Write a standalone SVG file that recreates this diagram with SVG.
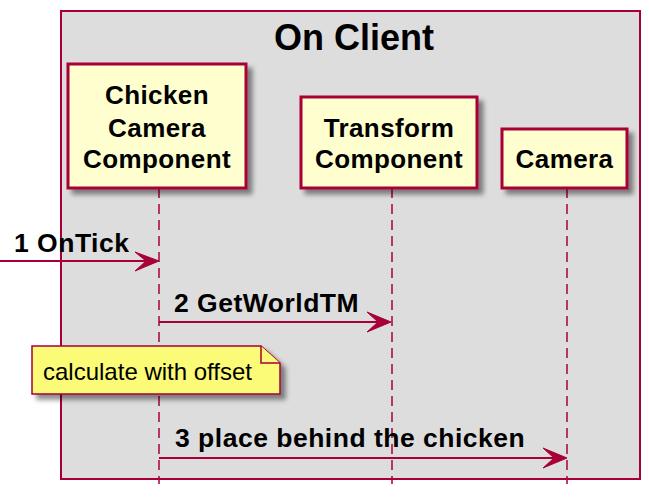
<svg xmlns="http://www.w3.org/2000/svg" width="649" height="501" viewBox="0 0 649 501">
  <style>
    .box { fill: #DDDDDD; stroke: #A80036; stroke-width: 2; }
    .part { fill: #FEFECE; stroke: #A80036; stroke-width: 3; filter: url(#shadow); }
    .ptext { font-family: "Liberation Sans", Arial, sans-serif; font-weight: bold; font-size: 26px; letter-spacing: 0.4px; fill: #000; text-anchor: middle; }
    .title { font-family: "Liberation Sans", Arial, sans-serif; font-weight: bold; font-size: 36px; fill: #000; text-anchor: middle; }
    .life { stroke: #A80036; stroke-width: 1.5; stroke-dasharray: 10,6; fill: none; }
    .msg { stroke: #A80036; stroke-width: 2; fill: none; }
    .head { fill: #A80036; stroke: #A80036; stroke-width: 1; }
    .mtext { font-family: "Liberation Sans", Arial, sans-serif; font-weight: bold; font-size: 26.5px; letter-spacing: 0.5px; fill: #000; }
    .note { fill: #FBFB77; stroke: #A80036; stroke-width: 1.5; }
    .ntext { font-family: "Liberation Sans", Arial, sans-serif; font-size: 24px; fill: #000; }
  </style>
  <defs>
    <filter id="shadow" x="-20%" y="-20%" width="150%" height="150%">
      <feGaussianBlur in="SourceAlpha" stdDeviation="2.5"/>
      <feOffset dx="5" dy="5" result="b"/>
      <feComponentTransfer><feFuncA type="linear" slope="0.45"/></feComponentTransfer>
      <feMerge><feMergeNode/><feMergeNode in="SourceGraphic"/></feMerge>
    </filter>
  </defs>

  <g id="group-on-client">
    <rect class="box" x="61" y="11" width="579" height="468"/>
    <text class="title" x="354" y="50">On Client</text>
  </g>

  <g id="lifelines">
    <line class="life" x1="159" y1="188" x2="159" y2="484"/>
    <line class="life" x1="392" y1="188" x2="392" y2="484"/>
    <line class="life" x1="567" y1="188" x2="567" y2="484"/>
  </g>

  <g id="chicken-camera-component">
    <rect class="part" x="68" y="64" width="178" height="124"/>
    <text class="ptext" x="157" y="104">Chicken</text>
    <text class="ptext" x="157" y="137">Camera</text>
    <text class="ptext" x="157" y="168">Component</text>
  </g>

  <g id="transform-component">
    <rect class="part" x="301" y="97" width="176" height="91"/>
    <text class="ptext" x="389" y="137">Transform</text>
    <text class="ptext" x="389" y="168">Component</text>
  </g>

  <g id="camera">
    <rect class="part" x="502" y="129" width="125" height="59"/>
    <text class="ptext" x="564.5" y="168">Camera</text>
  </g>

  <g id="connectors">
    <line class="msg" x1="0" y1="261" x2="155" y2="261"/>
    <polygon class="head" points="159,261 135,252 146,261 135,271"/>
    <text class="mtext" x="14" y="252">1 OnTick</text>

    <line class="msg" x1="159" y1="322" x2="387" y2="322"/>
    <polygon class="head" points="391,322 367,312 378,322 367,332"/>
    <text class="mtext" x="174" y="312">2 GetWorldTM</text>

    <line class="msg" x1="159" y1="458" x2="563" y2="458"/>
    <polygon class="head" points="567,458 543,448 554,458 543,468"/>
    <text class="mtext" x="175" y="447">3 place behind the chicken</text>
  </g>

  <g id="note-calculate">
    <polygon class="note" points="32,346 261,346 280,363 280,394 32,394" filter="url(#shadow)"/>
    <polyline class="note" points="261,346 261,363 280,363"/>
    <text class="ntext" x="43" y="380">calculate with offset</text>
  </g>
</svg>
